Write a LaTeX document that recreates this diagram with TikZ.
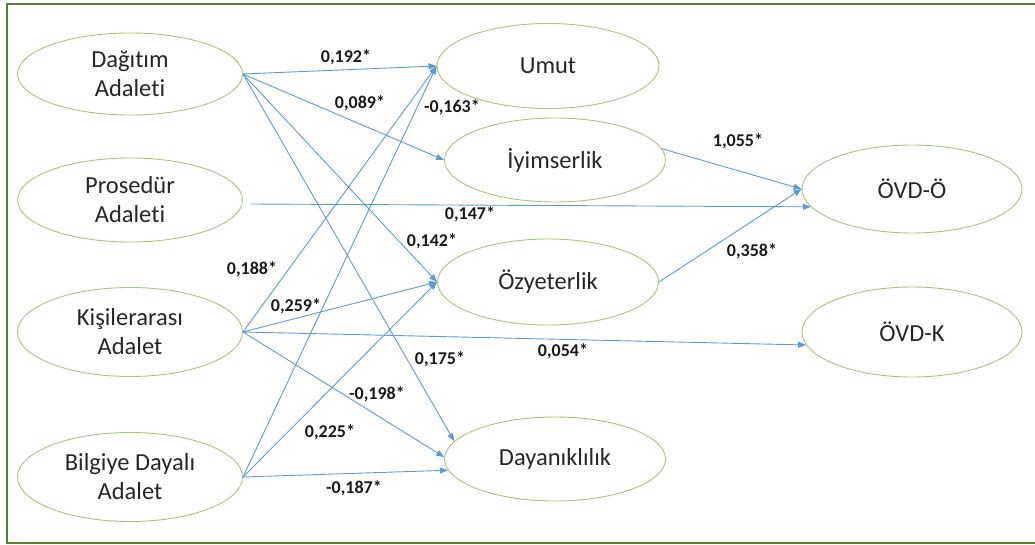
\documentclass[tikz,border=0pt]{standalone}
\usepackage{fontspec}
\setmainfont{Carlito}[Ligatures=NoCommon]
\usetikzlibrary{shapes.geometric,arrows.meta}
\definecolor{arrowblue}{HTML}{5B9BD5}
\definecolor{ellgreen}{HTML}{A6C47E}
\definecolor{framegreen}{HTML}{548235}
\begin{document}
\begin{tikzpicture}[x=1pt,y=-1pt,
  var/.style={ellipse,draw=ellgreen,line width=0.9pt,inner sep=0pt,align=center,
    font=\fontsize{24.5}{29}\selectfont,text=black!85},
  path/.style={draw=arrowblue,line width=0.9pt,-{Triangle[length=8pt,width=6pt]}},
  coef/.style={font=\fontsize{18}{20}\selectfont\bfseries,text=black!90,inner sep=0pt}]
\useasboundingbox (0,0) rectangle (1035,545);
\clip (0,0) rectangle (1035,545);
\draw[framegreen,line width=2pt] (7,3.8) rectangle (1045,542.5);
% left column
\node[var,minimum width=225pt,minimum height=82pt] (D) at (130,74) {Dağıtım\\Adaleti};
\node[var,minimum width=225pt,minimum height=84pt] (P) at (130,200) {Prosedür\\Adaleti};
\node[var,minimum width=225pt,minimum height=89pt] (K) at (130,332) {Kişilerarası\\Adalet};
\node[var,minimum width=225pt,minimum height=89pt] (B) at (130,477) {Bilgiye Dayalı\\Adalet};
% middle column
\node[var,minimum width=222pt,minimum height=85pt] (U) at (548,66) {Umut};
\node[var,minimum width=221pt,minimum height=84pt] (I) at (555,160) {İyimserlik};
\node[var,minimum width=221pt,minimum height=86pt] (O) at (548,282) {Özyeterlik};
\node[var,minimum width=221pt,minimum height=84pt] (Y) at (555,459) {Dayanıklılık};
% right column
\node[var,minimum width=220pt,minimum height=88pt] (OO) at (912,189) {ÖVD-Ö};
\node[var,minimum width=220pt,minimum height=90pt] (OK) at (912,332) {ÖVD-K};
% paths
\draw[path] (D.east) -- (U.west);
\draw[path] (D.east) -- (I.west);
\draw[path] (D.east) -- (O.west);
\draw[path] (D.east) -- (Y.170);
\draw[path] ([xshift=8pt,yshift=-4pt]P.east) -- (OO.190);
\draw[path] (K.east) -- (U.west);
\draw[path] (K.east) -- (O.west);
\draw[path] (K.east) -- (OK.187);
\draw[path] (K.east) -- (Y.179);
\draw[path] (B.east) -- (U.west);
\draw[path] (B.east) -- (O.west);
\draw[path] (B.east) -- (Y.186);
\draw[path] (I.6) -- (OO.west);
\draw[path] (O.east) -- (OO.west);
% coefficients
\node[coef] (c1) at (346,57) {0,192*};
\node[coef] (c2) at (360,103) {0,089*};
\node[coef] (c3) at (452,107) {-0,163*};
\node[coef] (c4) at (470,214) {0,147*};
\node[coef] (c5) at (432,241) {0,142*};
\node[coef] (c6) at (252,269) {0,188*};
\node[coef] (c7) at (296,306) {0,259*};
\node[coef] (c8) at (440,359) {0,175*};
\node[coef] (c9) at (377,394) {-0,198*};
\node[coef] (c10) at (330,432) {0,225*};
\node[coef] (c11) at (354,488) {-0,187*};
\node[coef] (c12) at (563,351) {0,054*};
\node[coef] (c13) at (738,141) {1,055*};
\node[coef] (c14) at (752,251) {0,358*};
\end{tikzpicture}
\end{document}
